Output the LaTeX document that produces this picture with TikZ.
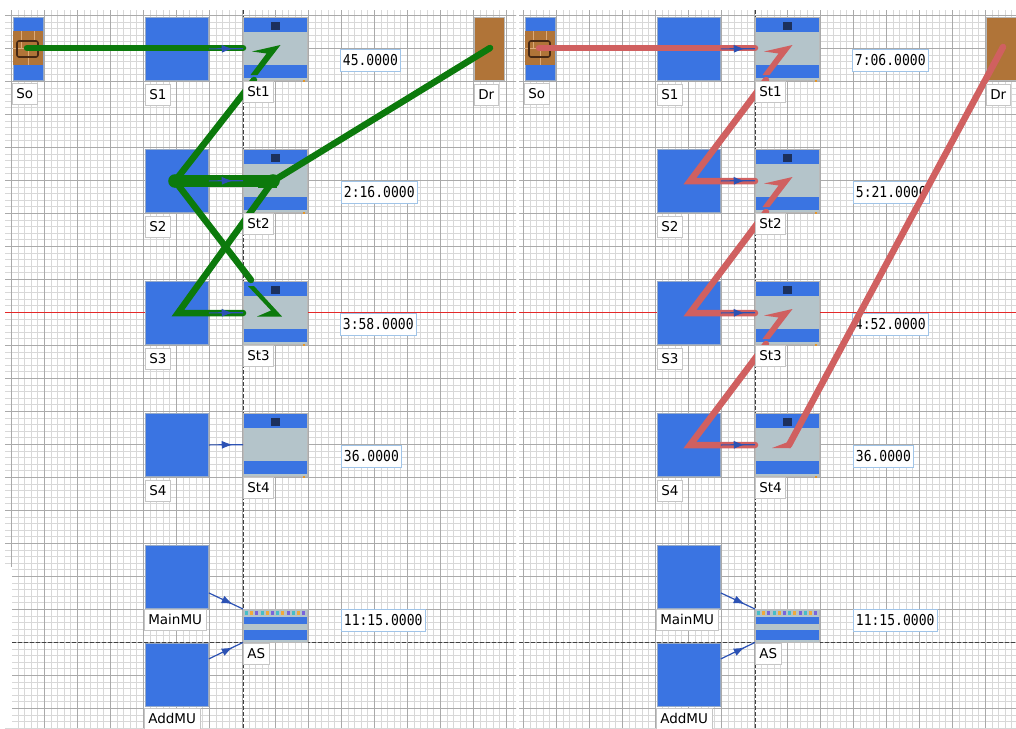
\documentclass[tikz,border=0pt]{standalone}
\usepackage{fontspec}
\setmainfont{DejaVu Sans}
\newfontfamily\valfont{DejaVu Sans Mono}
\usetikzlibrary{arrows.meta,decorations.markings}

\definecolor{boxblue}{RGB}{58,116,226}
\definecolor{boxedge}{RGB}{150,170,200}
\definecolor{stgrey}{RGB}{180,196,202}
\definecolor{darksq}{RGB}{28,48,92}
\definecolor{brownc}{RGB}{176,116,56}
\definecolor{tanc}{RGB}{220,170,120}
\definecolor{darkbrown}{RGB}{70,40,20}
\definecolor{gpathc}{RGB}{12,122,12}
\definecolor{rpathc}{RGB}{208,96,96}
\definecolor{connc}{RGB}{44,82,180}
\definecolor{redh}{RGB}{228,40,40}
\definecolor{valedge}{RGB}{160,196,232}
\definecolor{minorg}{RGB}{216,216,216}
\definecolor{majorg}{RGB}{170,170,170}
\definecolor{orangedot}{RGB}{230,150,40}
\definecolor{dotcyan}{RGB}{70,190,200}
\definecolor{dotorange}{RGB}{240,170,60}
\definecolor{dotpurple}{RGB}{120,100,220}

\tikzset{
  minorline/.style={draw=minorg, line width=0.6pt},
  majorline/.style={draw=majorg, line width=0.7pt},
  redhline/.style={draw=redh, line width=0.9pt},
  dashln/.style={draw=black!75, line width=0.8pt, dash pattern=on 4pt off 2pt},
  sbox/.style={draw=boxedge, fill=boxblue, line width=0.8pt, minimum width=63pt, minimum height=63pt, inner sep=0pt, anchor=north west},
  drbox/.style={draw=gray!55, fill=brownc, line width=0.8pt, minimum width=30pt, minimum height=63pt, inner sep=0pt, anchor=north west},
  stbox/.style={fill=stgrey, minimum width=64pt, minimum height=63pt, inner sep=0pt, anchor=north west},
  asbox/.style={fill=stgrey, minimum width=64pt, minimum height=33pt, inner sep=0pt, anchor=north west},
  stedge/.style={draw=gray!55, line width=0.7pt},
  lbl/.style={draw=gray!45, fill=white, line width=0.6pt, font=\fontsize{13.5}{15}\selectfont, inner xsep=4pt, inner ysep=0pt, minimum height=21pt, anchor=north west},
  val/.style={draw=valedge, fill=white, line width=0.8pt, font=\valfont\fontsize{15}{17}\selectfont, inner xsep=2.5pt, inner ysep=0pt, minimum height=22pt, anchor=north west},
  conn/.style={color=connc, line width=1.2pt, postaction={decorate}, decoration={markings, mark=at position 0.7 with {\arrow{Latex[length=11pt,width=8pt]}}}},
  gpath/.style={draw=gpathc, line width=6.5pt, line cap=round, line join=miter},
  rpath/.style={draw=rpathc, line width=6.5pt, line cap=round, line join=miter}
}

\newcommand\vtxt[1]{\scalebox{0.87}[1]{#1}}

\newcommand\mygrid[2]{%
  \begin{scope}
    \clip (#1,10) rectangle (#2,728);
    \foreach \i in {0,...,78}{\draw[minorline] ({4.7+6.6*\i},10) -- ({4.7+6.6*\i},728);}
    \foreach \j in {2,...,110}{\draw[minorline] (0,{2.1+6.6*\j}) -- (520,{2.1+6.6*\j});}
    \foreach \i in {0,...,15}{\draw[majorline] ({11.3+33*\i},10) -- ({11.3+33*\i},728);}
    \foreach \j in {0,...,21}{\draw[majorline] (0,{15.3+33*\j}) -- (520,{15.3+33*\j});}
  \end{scope}}

\newcommand\mystation[3]{%
  \node[stbox] (#1) at (#2,#3) {};
  \fill[boxblue] (#1.north west) rectangle ([yshift=-15pt]#1.north east);
  \fill[boxblue] ([yshift=15pt]#1.south west) rectangle ([yshift=2pt]#1.south east);
  \fill[darksq] ([xshift=-4pt,yshift=-5pt]#1.north) rectangle ([xshift=5pt,yshift=-13pt]#1.north);
  \draw[stedge] (#1.north west) rectangle (#1.south east);
  \fill[orangedot] ([xshift=-4pt]#1.south east) rectangle ([xshift=-2pt,yshift=-2pt]#1.south east);}

\newcommand\stwedge[1]{\fill[#1] (252,51.5) -- (280.5,45) -- (257.5,75) -- (250.5,75) -- (266.5,53.5) -- cycle;}

\newcommand\panelA[6]{%
  % source
  \node[sbox, minimum width=30pt] (So#1) at (13,17) {};
  \fill[brownc] (13.4,31) rectangle (42.6,65);
  \draw[tanc, line width=0.7pt] (13.4,48) -- (42.6,48) (21,31) -- (21,48) (34,31) -- (34,40) (28,48) -- (28,65);
  \draw[darkbrown, line width=1.6pt, rounded corners=2pt] (17,41) rectangle (38,57);
  % sinks / stations
  \node[sbox] (S1#1) at (145,17) {};
  \node[sbox] (S2#1) at (145,149) {};
  \node[sbox] (S3#1) at (145,281) {};
  \node[sbox] (S4#1) at (145,413) {};
  \node[sbox] (MainMU#1) at (145,545) {};
  \node[sbox] (AddMU#1) at (145,643) {};
  \mystation{St1#1}{243}{17}
  \mystation{St2#1}{243}{149}
  \mystation{St3#1}{243}{281}
  \mystation{St4#1}{243}{413}
  \node[drbox] (Dr#1) at (474,17) {};
  % assembly station
  \node[asbox] (AS#1) at (243,609) {};
  \fill[boxblue] (243,617) rectangle (307,624);
  \fill[boxblue] (243,630) rectangle (307,640);
  \foreach \k in {0,...,11}{%
    \pgfmathtruncatemacro\cc{mod(\k,3)}%
    \ifnum\cc=0 \fill[dotcyan] ({245+5.2*\k},611) rectangle ++(3,4);\fi
    \ifnum\cc=1 \fill[dotorange] ({245+5.2*\k},611) rectangle ++(3,4);\fi
    \ifnum\cc=2 \fill[dotpurple] ({245+5.2*\k},611) rectangle ++(3,4);\fi}
  \draw[stedge] (AS#1.north west) rectangle (AS#1.south east);
  % values
  \node[val] (V1#1) at (340,49) {\vtxt{#2}};
  \node[val] (V2#1) at (341,181) {\vtxt{#3}};
  \node[val] (V3#1) at (340,313) {\vtxt{#4}};
  \node[val] (V4#1) at (341,445) {\vtxt{#5}};
  \node[val] (V5#1) at (341,609) {\vtxt{#6}};
}

\newcommand\panelB[1]{%
  \node[lbl] (LSo#1) at (12,83) {So};
  \node[lbl] (LS1#1) at (145,84) {S1};
  \node[lbl] (LSt1#1) at (243,81) {St1};
  \node[lbl] (LDr#1) at (474,84) {Dr};
  \node[lbl] (LS2#1) at (145,216) {S2};
  \node[lbl] (LSt2#1) at (243,213) {St2};
  \node[lbl] (LS3#1) at (145,348) {S3};
  \node[lbl] (LSt3#1) at (243,345) {St3};
  \node[lbl] (LS4#1) at (145,480) {S4};
  \node[lbl] (LSt4#1) at (243,477) {St4};
  \node[lbl] (LMain#1) at (144,609) {MainMU};
  \node[lbl] (LAS#1) at (243,643) {AS};
  \node[lbl] (LAdd#1) at (144,708) {AddMU};
  \draw[conn] (S1#1.east) -- (St1#1.west);
  \draw[conn] (S2#1.east) -- (St2#1.west);
  \draw[conn] (S3#1.east) -- (St3#1.west);
  \draw[conn] (S4#1.east) -- (St4#1.west);
  \draw[conn] ([yshift=-16pt]MainMU#1.east) -- (AS#1.north west);
  \draw[conn] ([yshift=16pt]AddMU#1.east) -- (AS#1.south west);
}

\begin{document}
\begin{tikzpicture}[x=1pt,y=-1pt]
\useasboundingbox (0,0) rectangle (1016,728);
\fill[white] (0,0) rectangle (1016,728);

% ---------------- left panel ----------------
\mygrid{5}{516}
\fill[white] (0,567) rectangle (12,728);
\draw[redhline] (5,312) -- (516,312);
\draw[dashln] (243,10) -- (243,728);
\draw[dashln] (12,642) -- (516,642);
\panelA{L}{45.0000}{2:16.0000}{3:58.0000}{36.0000}{11:15.0000}
% green route
\coordinate (gSo) at (27,48);
\coordinate (gIn1) at (243,48);
\coordinate (gOut1) at (254,80);
\coordinate (gS2) at (175,181);
\coordinate (gSt2) at (273,181);
\coordinate (gDr) at (490,48);
\coordinate (gS3) at (178,313);
\coordinate (gIn3) at (243,313);
\coordinate (gTop3) at (251,280);
\draw[gpath] (gSo) -- (gIn1);
\stwedge{gpathc}
\draw[gpath] (gOut1) -- (gS2);
\draw[gpathc, line width=12.5pt] (gS2) -- (266,181);
\fill[gpathc] (gS2) circle[radius=6.8pt];
\fill[gpathc] (258,174.5) rectangle (277,188);
\fill[gpathc] (gSt2) circle[radius=6.8pt];
\draw[gpath] (gSt2) -- (gDr);
\draw[gpath] (gSt2) -- (gS3) -- (gIn3);
\draw[gpath] (gS2) -- (gTop3);
\fill[gpathc] (248,286) -- (254,286) -- (282,316.5) -- (257,316.5) -- (271,310.5) -- cycle;
\panelB{L}

% ---------------- right panel ----------------
\begin{scope}[shift={(512,0)}]
\mygrid{7}{504}
\draw[redhline] (7,312) -- (504,312);
\draw[dashln] (243,10) -- (243,728);
\draw[dashln] (7,642) -- (504,642);
\panelA{R}{7:06.0000}{5:21.0000}{4:52.0000}{36.0000}{11:15.0000}
% red route
\coordinate (rSo) at (27,48);
\coordinate (rIn1) at (243,48);
\draw[rpath] (rSo) -- (rIn1);
\foreach \dy in {0,132,264}{%
  \begin{scope}[shift={(0,\dy)}]
    \stwedge{rpathc}
    \coordinate (rOut) at (254,80);
    \coordinate (rSk) at (178,181);
    \coordinate (rIn) at (243,181);
    \draw[rpath] (rOut) -- (rSk) -- (rIn);
  \end{scope}}
\coordinate (rSt4) at (277,445);
\coordinate (rDr) at (491,47);
\fill[rpathc] (260,448) -- (276,442) -- (279,448) -- cycle;
\draw[rpath] (rSt4) -- (rDr);
\panelB{R}
\end{scope}
\end{tikzpicture}
\end{document}
